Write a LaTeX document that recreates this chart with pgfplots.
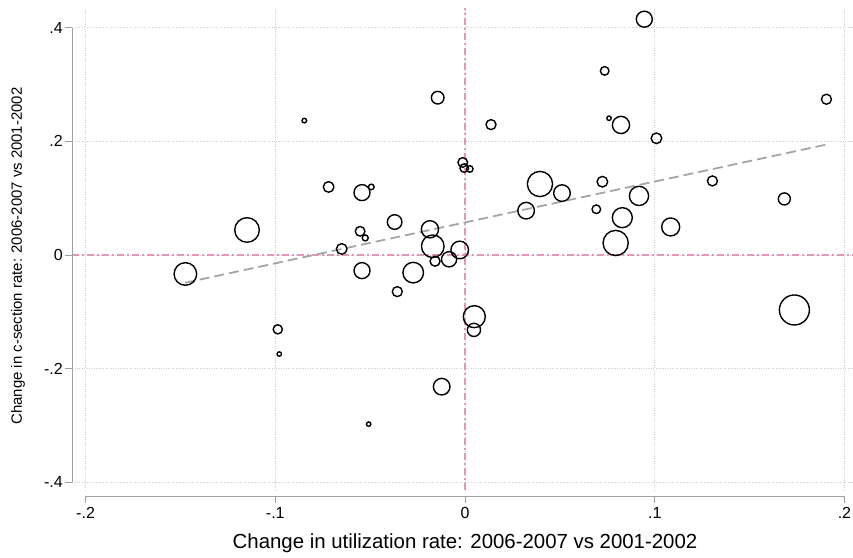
\documentclass[border=0pt]{standalone}
\usepackage{fontspec}
\setmainfont{Liberation Sans}
\usepackage{pgfplots}
\usepackage{pgfplotstable}
\pgfplotsset{compat=1.18}
\usetikzlibrary{calc}
\definecolor{refpink}{RGB}{226,150,185}
\definecolor{gridgray}{RGB}{205,205,205}
\definecolor{axgray}{RGB}{160,160,160}
\definecolor{fitgray}{RGB}{165,165,165}
\newcommand{\tf}{\fontsize{16}{18}\selectfont}

\pgfplotstableread{
x y r
-0.1149 0.0440 12.3
-0.1474 -0.0335 11.3
-0.0987 -0.1310 4.6
-0.0979 -0.1745 2.2
-0.0847 0.2367 2.3
-0.0719 0.1198 5.3
-0.0543 0.1098 8.0
-0.0494 0.1198 2.8
-0.0371 0.0580 7.3
-0.0553 0.0417 4.8
-0.0526 0.0300 3.0
-0.0650 0.0106 5.3
-0.0012 0.1630 4.8
-0.0004 0.1530 4.3
0.0025 0.1515 3.3
0.0395 0.1250 12.6
0.0511 0.1090 8.3
0.0322 0.0780 8.3
-0.0185 0.0452 8.6
-0.0170 0.0153 11.3
-0.0028 0.0088 8.8
-0.0084 -0.0076 7.6
-0.0158 -0.0110 5.0
-0.0273 -0.0311 10.3
-0.0357 -0.0646 5.0
-0.0543 -0.0276 8.0
0.0049 -0.1087 11.0
0.0047 -0.1320 6.6
-0.0123 -0.2320 8.3
-0.0508 -0.2980 2.2
-0.0144 0.2770 6.3
0.0137 0.2296 5.0
0.0945 0.4153 8.0
0.0736 0.3242 4.3
0.0759 0.2408 2.2
0.0822 0.2290 8.6
0.1009 0.2055 5.3
0.0724 0.1290 5.3
0.0917 0.1040 9.6
0.0692 0.0805 4.3
0.0829 0.0657 10.0
0.0794 0.0211 12.6
0.1084 0.0493 9.0
0.1304 0.1304 5.0
0.1683 0.0987 6.0
0.1736 -0.0969 15.0
0.1905 0.2743 5.0
}\bubbles

\begin{document}
\begin{tikzpicture}
\begin{axis}[
  /pgf/number format/assume math mode=true,
  scale only axis, width=780.7pt, height=482pt,
  xmin=-0.207, xmax=0.2045, ymin=-0.414, ymax=0.435,
  axis x line=bottom, axis y line=left,
  axis line style={draw=none},
  axis x line shift=6pt,
  xtick={-0.2,-0.1,0,0.1,0.2}, xticklabels={-.2,-.1,0,.1,.2},
  ytick={-0.4,-0.2,0,0.2,0.4}, yticklabels={-.4,-.2,0,.2,.4},
  tick align=outside, major tick length=7pt,
  tick style={axgray, line width=0.9pt},
  xticklabel style={font=\tf, yshift=-1pt},
  yticklabel style={font=\tf, xshift=1pt},
  grid=major, grid style={gridgray, dotted, line width=0.8pt},
  xlabel={Change in utilization rate: 2006-2007 vs 2001-2002},
  xlabel style={font=\fontsize{20.4}{23}\selectfont, at={(axis cs:0,-0.414)}, anchor=center, yshift=-53pt},
  ylabel={Change in c-section rate: 2006-2007 vs 2001-2002},
  ylabel style={font=\fontsize{14.9}{17}\selectfont, at={(axis description cs:-0.0696,0.4855)}, anchor=center, rotate=0},
  clip=false,
]
\addplot[refpink, line width=1.1pt, dash pattern=on 7pt off 3pt on 2pt off 3pt] coordinates {(-0.207,0) (0.2045,0)};
\addplot[refpink, line width=1.1pt, dash pattern=on 7pt off 3pt on 2pt off 3pt] coordinates {(0,-0.414) (0,0.435)};
\addplot[fitgray, line width=1.8pt, dash pattern=on 10pt off 5pt] coordinates {(-0.1476,-0.049) (0.1912,0.195)};
\addplot[scatter, only marks, mark=o, line width=1.4pt,
  scatter/use mapped color={draw=black, fill=none},
  visualization depends on={\thisrow{r} \as \rad},
  scatter/@pre marker code/.append style={/tikz/mark size=\rad},
] table[x=x,y=y,meta=r] {\bubbles};
\draw[axgray, line width=0.9pt] ([yshift=-6pt]axis cs:-0.2,-0.414) -- ([yshift=-6pt]axis cs:0.2,-0.414);
\draw[axgray, line width=0.9pt] (axis cs:-0.207,-0.4) -- (axis cs:-0.207,0.4);
\coordinate (SW) at (rel axis cs:0,0);
\coordinate (NE) at (rel axis cs:1,1);
\end{axis}
\pgfresetboundingbox
\path[use as bounding box] ($(SW)+(-72.3pt,-68pt)$) rectangle ($(NE)+(0pt,8pt)$);
\end{tikzpicture}
\end{document}
